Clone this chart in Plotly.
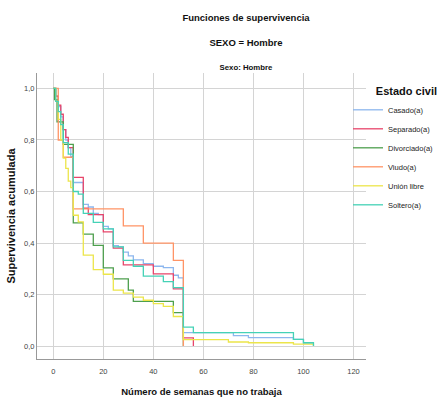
import plotly.graph_objects as go

# Kaplan-Meier curves (weeks, cumulative survival)
casado_t = [0, 1, 2, 3, 4, 5, 6, 7, 8, 12, 14, 16, 18, 20, 22, 24, 26, 28, 30, 32, 36, 40, 44, 48, 50, 52, 72, 78, 96, 100, 104]
casado_s = [1.0, 0.97, 0.93, 0.89, 0.84, 0.80, 0.77, 0.735, 0.635, 0.55, 0.54, 0.515, 0.51, 0.465, 0.455, 0.39, 0.385, 0.365, 0.35, 0.335, 0.32, 0.31, 0.305, 0.275, 0.265, 0.052, 0.041, 0.033, 0.026, 0.013, 0.013]

separado_t = [0, 1, 2, 3, 4, 5, 6, 8, 12, 14, 20, 24, 28, 40, 48, 52, 56]
separado_s = [1.0, 0.97, 0.935, 0.90, 0.84, 0.81, 0.77, 0.655, 0.535, 0.51, 0.443, 0.38, 0.315, 0.28, 0.222, 0.032, 0.0]

divorciado_t = [0, 0.5, 1.5, 4, 8, 12, 16, 20, 24, 30, 32, 48, 52]
divorciado_s = [1.0, 0.957, 0.87, 0.783, 0.478, 0.435, 0.391, 0.304, 0.261, 0.217, 0.174, 0.130, 0.0]

viudo_t = [0, 2, 4, 8, 28, 36, 48, 52]
viudo_s = [1.0, 0.8, 0.733, 0.533, 0.467, 0.4, 0.333, 0.0]

union_t = [0, 1, 2, 3, 4, 5, 6, 7, 8, 10, 12, 16, 20, 24, 28, 32, 36, 40, 44, 48, 52, 70, 78, 96, 104]
union_s = [1.0, 0.95, 0.88, 0.80, 0.73, 0.69, 0.64, 0.615, 0.508, 0.482, 0.353, 0.297, 0.279, 0.217, 0.206, 0.19, 0.178, 0.165, 0.154, 0.115, 0.025, 0.016, 0.013, 0.008, 0.0]

soltero_t = [0, 1, 2, 3, 4, 6, 8, 10, 12, 16, 20, 24, 28, 32, 36, 44, 48, 52, 56, 96, 100, 104]
soltero_s = [1.0, 0.95, 0.91, 0.86, 0.79, 0.745, 0.60, 0.59, 0.515, 0.48, 0.455, 0.385, 0.333, 0.31, 0.272, 0.25, 0.227, 0.074, 0.052, 0.026, 0.013, 0.0]

groups = ["Casado(a)", "Separado(a)", "Divorciado(a)", "Viudo(a)", "Unión libre", "Soltero(a)"]
colors = ["#8db7ee", "#e8456a", "#4e9f4e", "#ff9466", "#ece54a", "#45d2b6"]
curves = [(casado_t, casado_s), (separado_t, separado_s), (divorciado_t, divorciado_s),
          (viudo_t, viudo_s), (union_t, union_s), (soltero_t, soltero_s)]

font = "Liberation Sans, Arial, sans-serif"

fig = go.Figure()
for name, col, (t, s) in zip(groups, colors, curves):
    fig.add_trace(go.Scatter(x=t, y=s, name=name, mode="lines",
                             line=dict(color=col, width=1.3, shape="hv")))

title_text = ("<b>Funciones de supervivencia</b><br><br><b>SEXO = Hombre</b><br><br>"
              "<span style='font-size:7.8px'><b>Sexo: Hombre</b></span>")

fig.update_layout(
    width=439, height=405,
    # r=0: the right margin comes from the legend push (about 74 px)
    margin=dict(l=37, r=0, t=73, b=46),
    paper_bgcolor="white", plot_bgcolor="white",
    separators=",.",
    font=dict(family=font, size=8, color="#222"),
    title=dict(text=title_text, x=246 / 439, xanchor="center", xref="container",
               y=1 - 21 / 405, yanchor="top", yref="container",
               font=dict(family=font, size=9.5, color="#111")),
    legend=dict(x=1.2226, y=0.972, xanchor="right", yanchor="top", bgcolor="rgba(0,0,0,0)",
                font=dict(family=font, size=7.5, color="#222"),
                title=dict(text="<b>Estado civil</b>", side="top right",
                           font=dict(family=font, size=11, color="#111")),
                tracegroupgap=0, itemwidth=30),
)
fig.update_xaxes(range=[-6.5, 125], dtick=20, tick0=0, showgrid=True, gridcolor="#d4d4d4",
                 showline=True, linecolor="#999", zeroline=False, ticks="", automargin=False,
                 tickfont=dict(size=7.5, color="#444"), ticklabelstandoff=5,
                 title=dict(text="<b>Número de semanas que no trabaja</b>",
                            font=dict(family=font, size=9.5, color="#111"), standoff=13))
fig.update_yaxes(range=[-0.05, 1.06], dtick=0.2, tick0=0, tickformat=".1f", showgrid=True,
                 gridcolor="#d4d4d4", showline=True, linecolor="#999", zeroline=False, ticks="",
                 automargin=False, tickfont=dict(size=7.5, color="#444"),
                 title=dict(text="<b>Supervivencia acumulada</b>",
                            font=dict(family=font, size=11, color="#111"), standoff=6))

fig.write_html("out.html", config={"displayModeBar": False},
               post_script="document.body.style.margin='0';")
